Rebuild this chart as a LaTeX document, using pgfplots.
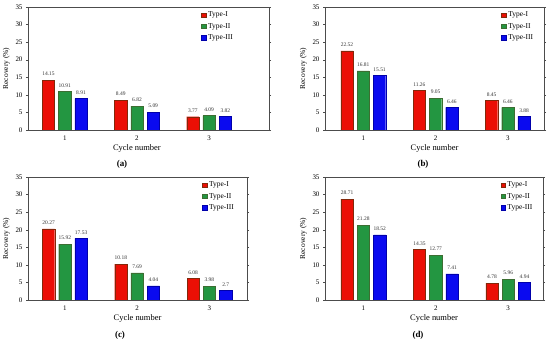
\documentclass[border=0pt]{standalone}
\usepackage{fontspec}
\setmainfont{Liberation Serif}
\usepackage{pgfplots}
\pgfplotsset{compat=1.18}
\definecolor{cI}{RGB}{235,15,5}
\definecolor{cIb}{RGB}{130,40,10}
\definecolor{cII}{RGB}{35,150,65}
\definecolor{cIIb}{RGB}{60,110,50}
\definecolor{cIII}{RGB}{10,10,240}
\definecolor{cIIIb}{RGB}{0,0,170}
\pgfplotsset{
  panel/.style={
    scale only axis, height=123bp, ybar, bar width=0.17,
    ymin=0, ymax=35, ytick={0,5,...,35}, xtick={1,2,3},
    axis line style={draw=black!70}, tick style={draw=black!70},
    tick align=outside, major tick length=2bp, xtick style={draw=none},
    ticklabel style={font=\fontsize{7}{8}\selectfont},
    /pgf/number format/assume math mode=true,
    ylabel={Recovery (\%)}, ylabel style={font=\fontsize{7.5}{8}\selectfont, yshift=-1bp},
    xlabel={Cycle number}, xlabel style={font=\fontsize{8.5}{9}\selectfont, yshift=2bp},
    nodes near coords, point meta=explicit symbolic,
    every node near coord/.append style={font=\fontsize{5.5}{6}\selectfont, text=black!80, inner sep=1.5bp, yshift=2.5bp},
    legend cell align=left,
    legend style={draw=none, fill=none, font=\fontsize{7.5}{8}\selectfont, inner sep=1bp, anchor=north west, row sep=1bp},
    legend image code/.code={\fill[##1] (0bp,-2bp) rectangle (4.5bp,2.5bp);},
  },
  sI/.style={fill=cI, draw=cIb, bar shift=-0.225},
  sII/.style={fill=cII, draw=cIIb, bar shift=0},
  sIII/.style={fill=cIII, draw=cIIIb, bar shift=0.225},
}
\begin{document}
\begin{tikzpicture}
\path[use as bounding box] (0,0) rectangle (550bp,343bp);
% (a)
\begin{axis}[panel, at={(28bp,213bp)}, anchor=south west, width=241bp,
  xmin=0.49, xmax=3.83, legend style={at={(0.714,0.985)}},
  xlabel style={at={(ticklabel cs:0.452)}}]
\addplot[sI] coordinates {(1,14.15)[14.15] (2,8.49)[8.49] (3,3.77)[3.77]};
\addplot[sII] coordinates {(1,10.91)[10.91] (2,6.82)[6.82] (3,4.09)[4.09]};
\addplot[sIII] coordinates {(1,8.91)[8.91] (2,5.09)[5.09] (3,3.82)[3.82]};
\legend{Type-I,Type-II,Type-III}
\end{axis}
% (b)
\begin{axis}[panel, at={(325bp,213bp)}, anchor=south west, width=219bp,
  xmin=0.47, xmax=3.5, legend style={at={(0.80,0.985)}}]
\addplot[sI] coordinates {(1,22.52)[22.52] (2,11.26)[11.26] (3,8.45)[8.45]};
\addplot[sII] coordinates {(1,16.81)[16.81] (2,9.05)[9.05] (3,6.46)[6.46]};
\addplot[sIII] coordinates {(1,15.51)[15.51] (2,6.46)[6.46] (3,3.88)[3.88]};
\legend{Type-I,Type-II,Type-III}
\end{axis}
% (c)
\begin{axis}[panel, at={(28bp,43bp)}, anchor=south west, width=219bp,
  xmin=0.49, xmax=3.52, legend style={at={(0.79,0.985)}}]
\addplot[sI] coordinates {(1,20.27)[20.27] (2,10.18)[10.18] (3,6.08)[6.08]};
\addplot[sII] coordinates {(1,15.92)[15.92] (2,7.69)[7.69] (3,3.98)[3.98]};
\addplot[sIII] coordinates {(1,17.53)[17.53] (2,4.04)[4.04] (3,2.7)[2.7]};
\legend{Type-I,Type-II,Type-III}
\end{axis}
% (d)
\begin{axis}[panel, at={(325bp,43bp)}, anchor=south west, width=218bp,
  xmin=0.47, xmax=3.48, legend style={at={(0.80,0.985)}}]
\addplot[sI] coordinates {(1,28.71)[28.71] (2,14.35)[14.35] (3,4.78)[4.78]};
\addplot[sII] coordinates {(1,21.28)[21.28] (2,12.77)[12.77] (3,5.96)[5.96]};
\addplot[sIII] coordinates {(1,18.52)[18.52] (2,7.41)[7.41] (3,4.94)[4.94]};
\legend{Type-I,Type-II,Type-III}
\end{axis}
\node[font=\bfseries\fontsize{9}{10}\selectfont] at (122bp,179bp) {(a)};
\node[font=\bfseries\fontsize{9}{10}\selectfont] at (423bp,179bp) {(b)};
\node[font=\bfseries\fontsize{9}{10}\selectfont] at (120bp,8bp) {(c)};
\node[font=\bfseries\fontsize{9}{10}\selectfont] at (418bp,8bp) {(d)};
\end{tikzpicture}
\end{document}
